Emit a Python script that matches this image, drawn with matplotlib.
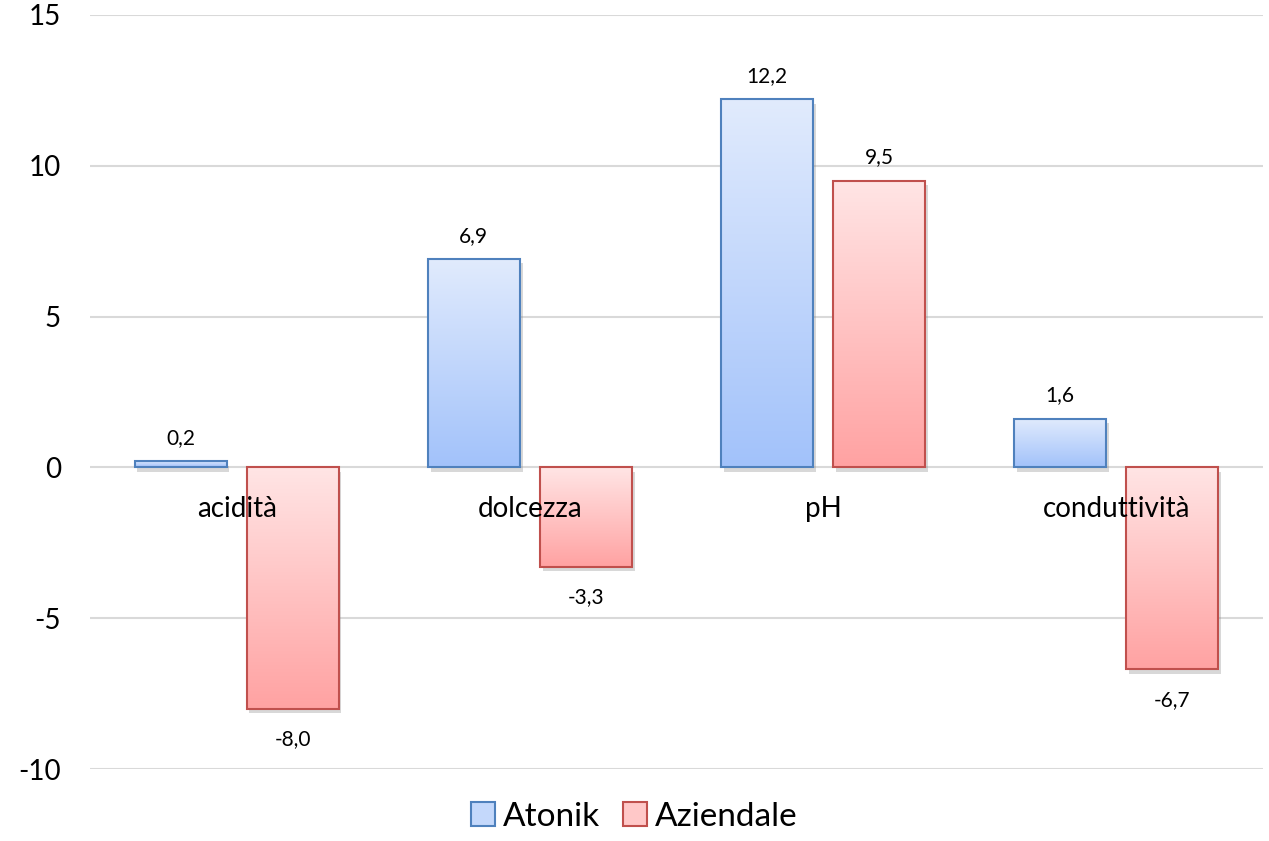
import matplotlib
matplotlib.use("Agg")
import numpy as np
import matplotlib.pyplot as plt
from matplotlib.patches import Patch
import matplotlib.patheffects as pe
from matplotlib.colors import LinearSegmentedColormap

categories = ["acidità", "dolcezza", "pH", "conduttività"]
atonik = [0.2, 6.9, 12.2, 1.6]
aziendale = [-8.0, -3.3, 9.5, -6.7]
series_names = ["Atonik", "Aziendale"]

plt.rcParams["font.family"] = ["Lato", "DejaVu Sans"]
plt.rcParams["axes.unicode_minus"] = False

# colori gradiente (alto -> basso) e bordo
blue_top, blue_bot, blue_edge = "#E1EBFD", "#A2C2FA", "#4F81BD"
red_top, red_bot, red_edge = "#FFE5E5", "#FFA2A2", "#C0504D"

fig = plt.figure(figsize=(12.69, 8.41), dpi=100)
ax = fig.add_axes([0.071, 0.0856, 0.924, 0.8966])

x = np.arange(len(categories))
w = 0.314
off = 0.191


def gradient_bars(xpos, vals, top, bot, edge):
    cmap = LinearSegmentedColormap.from_list("g", [top, bot])
    bars = ax.bar(xpos, vals, w, facecolor="white", edgecolor="none", zorder=2,
                  path_effects=[pe.SimplePatchShadow(offset=(2, -3), shadow_rgbFace="#808080", alpha=0.3),
                                pe.Normal()])
    grad = np.linspace(0, 1, 256).reshape(-1, 1)
    for b in bars:
        x0, y0 = b.get_x(), b.get_y()
        bw, bh = b.get_width(), b.get_height()
        ylo, yhi = min(y0, y0 + bh), max(y0, y0 + bh)
        im = ax.imshow(grad, cmap=cmap, aspect="auto", extent=(x0, x0 + bw, ylo, yhi),
                       origin="upper", zorder=3)
        im.set_clip_path(b)
    ax.bar(xpos, vals, w, facecolor="none", edgecolor=edge, linewidth=1.5, zorder=4)
    return bars


gradient_bars(x - off, atonik, blue_top, blue_bot, blue_edge)
gradient_bars(x + off, aziendale, red_top, red_bot, red_edge)

# etichette dati
for xs, vals in [(x - off, atonik), (x + off, aziendale)]:
    for xi, v in zip(xs, vals):
        txt = f"{v:.1f}".replace(".", ",")
        dy = 17 if v >= 0 else -22
        ax.annotate(txt, (xi, v), xytext=(0, dy), textcoords="offset points",
                    ha="center", va="center", fontsize=15, zorder=6)

# etichette categorie vicino allo zero
for xi, c in zip(x, categories):
    ax.annotate(c, (xi, 0), xytext=(0, -30), textcoords="offset points",
                ha="center", va="center", fontsize=20, zorder=6)

ax.set_xlim(-0.5, len(categories) - 0.5)
ax.set_ylim(-10, 15)
ax.set_yticks([-10, -5, 0, 5, 10, 15])
ax.set_xticks([])
ax.grid(axis="y", color="#D9D9D9", linewidth=1.5, zorder=0)
ax.set_axisbelow(True)
for s in ax.spines.values():
    s.set_visible(False)
ax.tick_params(axis="y", length=0, labelsize=20, pad=21)
for lbl in ax.get_yticklabels():
    lbl.set_horizontalalignment("right")

handles = [Patch(facecolor="#C4D8FB", edgecolor=blue_edge, linewidth=1.5),
           Patch(facecolor="#FFC8C8", edgecolor=red_edge, linewidth=1.5)]
fig.legend(handles, series_names, loc="center", bbox_to_anchor=(0.5, 0.029), ncol=2,
           frameon=False, fontsize=24, handlelength=0.7, handleheight=0.7,
           handletextpad=0.25, columnspacing=0.7)

fig.savefig("out.png", dpi=100)
